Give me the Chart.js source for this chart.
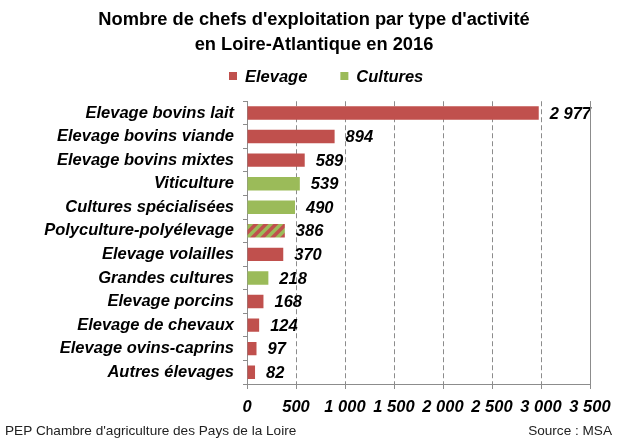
<!DOCTYPE html>
<html>
<head>
<meta charset="utf-8">
<script src="https://cdn.jsdelivr.net/npm/chart.js@4/dist/chart.umd.min.js"></script>
<style>
  html, body { margin: 0; padding: 0; background: #fff; }
  #wrap { width: 628px; height: 439px; }
</style>
</head>
<body>
<div id="wrap"><canvas id="chart" width="628" height="439"></canvas></div>
<script>
const categories = ['Elevage bovins lait', 'Elevage bovins viande', 'Elevage bovins mixtes', 'Viticulture',
  'Cultures spécialisées', 'Polyculture-polyélevage', 'Elevage volailles', 'Grandes cultures',
  'Elevage porcins', 'Elevage de chevaux', 'Elevage ovins-caprins', 'Autres élevages'];
const elevage  = [2977, 894, 589, null, null, 386, 370, null, 168, 124, 97, 82];
const cultures = [null, null, null, 539, 490, null, null, 218, null, null, null, null];
// polyculture is both: drawn hatched with the two colours
const mixed = [false, false, false, false, false, true, false, false, false, false, false, false];
const xTicks = [0, 500, 1000, 1500, 2000, 2500, 3000, 3500];
const seriesNames = ['Elevage', 'Cultures'];

const RED = '#C0504D';
const GREEN = '#9BBB59';
const FONT = "'Liberation Sans', Arial, sans-serif";

const fmt = v => String(v).replace(/\B(?=(\d{3})+(?!\d))/g, ' ');

const ctx = document.getElementById('chart').getContext('2d');

function hatch(){
  const c = document.createElement('canvas');
  c.width = c.height = 10;
  const g = c.getContext('2d');
  g.fillStyle = GREEN;
  g.fillRect(0, 0, 10, 10);
  g.strokeStyle = RED;
  g.lineWidth = 3.6;
  g.beginPath();
  g.moveTo(-2, 12); g.lineTo(12, -2);
  g.moveTo(-2, 2); g.lineTo(2, -2);
  g.moveTo(8, 12); g.lineTo(12, 8);
  g.stroke();
  return ctx.createPattern(c, 'repeat');
}
const pattern = hatch();

// value labels right of each bar
const valueLabels = {
  id: 'valueLabels',
  afterDatasetsDraw(chart){
    const c = chart.ctx;
    c.save();
    c.font = `italic bold 16.5px ${FONT}`;
    c.fillStyle = '#000';
    c.textBaseline = 'middle';
    chart.data.datasets.forEach((ds, i) => {
      chart.getDatasetMeta(i).data.forEach((bar, j) => {
        if(ds.data[j] == null) return;
        c.fillText(fmt(ds.data[j]), bar.x + 11, bar.y + 1);
      });
    });
    c.restore();
  }
};

// legend, right frame line and footer texts
const extras = {
  id: 'extras',
  afterDraw(chart){
    const c = chart.ctx;
    const a = chart.chartArea;
    c.save();
    c.strokeStyle = '#8c8c8c';
    c.lineWidth = 1;
    c.beginPath();
    c.moveTo(Math.round(a.right) + 0.5, a.top);
    c.lineTo(Math.round(a.right) + 0.5, a.bottom);
    c.stroke();

    c.font = `italic bold 16.5px ${FONT}`;
    c.textBaseline = 'middle';
    let x = 229;
    const y = 76;
    [RED, GREEN].forEach((col, i) => {
      c.fillStyle = col;
      c.fillRect(x, y - 4, 8, 8);
      c.fillStyle = '#000';
      c.fillText(seriesNames[i], x + 16, y + 1);
      x += 16 + c.measureText(seriesNames[i]).width + 33;
    });

    c.font = `13.6px ${FONT}`;
    c.fillStyle = '#222';
    c.textAlign = 'left';
    c.fillText("PEP Chambre d'agriculture des Pays de la Loire", 5, 431);
    c.textAlign = 'right';
    c.fillText('Source : MSA', 612, 431);
    c.restore();
  }
};

new Chart(ctx, {
  type: 'bar',
  data: {
    labels: categories,
    datasets: [
      {
        label: seriesNames[0],
        data: elevage,
        backgroundColor: mixed.map(m => m ? pattern : RED),
        grouped: false,
        barPercentage: 0.57,
        categoryPercentage: 1,
      },
      {
        label: seriesNames[1],
        data: cultures,
        backgroundColor: GREEN,
        grouped: false,
        barPercentage: 0.57,
        categoryPercentage: 1,
      },
    ],
  },
  options: {
    indexAxis: 'y',
    responsive: false,
    animation: false,
    layout: { padding: { left: 38, right: 38, top: 0, bottom: 24 } },
    plugins: {
      legend: { display: false },
      tooltip: { enabled: false },
      title: {
        display: true,
        text: ["Nombre de chefs d'exploitation par type d'activité", 'en Loire-Atlantique en 2016'],
        color: '#000',
        font: { family: FONT, size: 18.3, weight: 'bold', lineHeight: 1.4 },
        padding: { top: 7, bottom: 43 },
      },
    },
    scales: {
      x: {
        min: 0,
        max: 3500,
        afterBuildTicks: s => { s.ticks = xTicks.map(v => ({ value: v })); },
        afterFit: s => { s.height = 31; },
        ticks: {
          color: '#000',
          padding: 9,
          font: { family: FONT, size: 16.5, style: 'italic', weight: 'bold' },
          callback: v => fmt(v),
        },
        grid: { color: '#8c8c8c', tickLength: 5, tickColor: '#8c8c8c' },
        border: { color: '#8c8c8c', dash: [5, 3] },
      },
      y: {
        afterFit: s => { s.width = 209; },
        ticks: {
          color: '#000',
          padding: 9,
          font: { family: FONT, size: 16.5, style: 'italic', weight: 'bold' },
        },
        grid: { display: true, drawOnChartArea: false, offset: true, tickLength: 4, color: '#8c8c8c' },
        border: { color: '#8c8c8c' },
      },
    },
  },
  plugins: [valueLabels, extras],
});
</script>
</body>
</html>
